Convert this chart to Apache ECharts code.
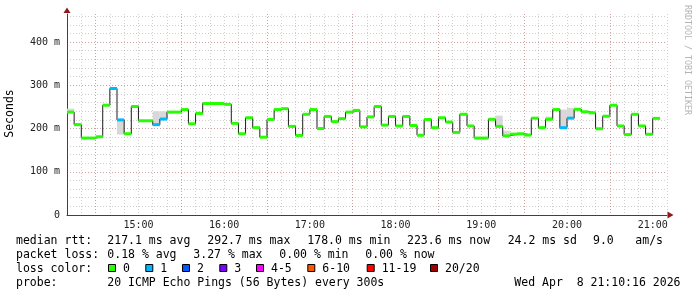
<!DOCTYPE html>
<html><head><meta charset="utf-8">
<script src="https://cdn.jsdelivr.net/npm/echarts@6/dist/echarts.min.js"></script>
<style>html,body{margin:0;padding:0;background:#fff}#c{width:697px;height:297px}</style>
</head><body><div id="c"></div>
<script>
// ---- data ----
const startMinute = 850;   // 14:10, first 5-minute step
const stepMinutes = 5;
const medianMs = [
  238, 209, 178, 178, 181, 254, 292.7, 220, 188, 251,
  218, 218, 209, 222, 238, 238, 244, 211, 235, 258,
  258, 258, 256, 212, 188, 225, 202, 180, 221, 244,
  246, 205, 184, 233, 244, 200, 228, 216, 223, 238,
  242, 204, 227, 251, 208, 228, 206, 228, 207, 184.5,
  221, 202, 225, 215, 191, 233, 206, 178, 178, 221.5,
  205, 183, 187, 188, 185, 224, 202, 221.5, 244, 202,
  224, 244.5, 238.8, 236.5, 199.5, 228.5, 254, 206, 186, 233,
  206, 186.7, 223.6
];
const lossLevel = [
  0,0,0,0,0,0,1,1,0,0,
  0,0,1,1,0,0,0,0,0,0,
  0,0,0,0,0,0,0,0,0,0,
  0,0,0,0,0,0,0,0,0,0,
  0,0,0,0,0,0,0,0,0,0,
  0,0,0,0,0,0,0,0,0,0,
  0,0,0,0,0,0,0,0,0,1,
  1,0,0,0,0,0,0,0,0,0,
  0,0,0
];
// [step number (1-based), low ms, high ms]
const smokeRanges = [
  [1, 238, 246], [2, 209, 213], [8, 186, 220], [13, 209, 240], [14, 222, 240],
  [61, 205, 230], [62, 183, 195], [68, 221, 228], [70, 202, 244], [71, 224, 248]
];
const lossLabels = ['0','1','2','3','4-5','6-10','11-19','20/20'];
const lossColors = ['#26ff00','#00b8ff','#0059ff','#7e00ff','#ff00ff','#ff5500','#ff0000','#a00000'];
const rttStats = ['217.1 ms avg','292.7 ms max','178.0 ms min','223.6 ms now','24.2 ms sd','9.0','am/s'];
const lossStats = ['0.18 % avg','3.27 % max','0.00 % min','0.00 % now'];
const rowTitles = ['median rtt:','packet loss:','loss color:','probe:'];
const probeText = '20 ICMP Echo Pings (56 Bytes) every 300s';
const dateText = 'Wed Apr  8 21:10:16 2026';
const yAxisTitle = 'Seconds';
const sideText = 'RRDTOOL / TOBI OETIKER';

// ---- layout ----
const MONO = 'DejaVu Sans Mono';
const FS = 11.5;
const rowY = [241, 255.3, 268.7, 283];
const rttX = [107.3, 207.3, 307.3, 407, 507.7, 593, 635.3];
const lossX = [107.3, 193.3, 279.3, 365.3];
const squareX = [108, 145.3, 182, 219.3, 256, 307.3, 366.7, 430];

const MAJ = 'rgba(130,30,30,0.42)';
const MIN = 'rgba(140,140,140,0.42)';
const xColors = [MIN, MIN, MAJ, MIN, MIN, MIN];
const yColors = [];
for (let k = 0; k < 24; k++) yColors.push(k % 5 === 0 ? MAJ : MIN);
yColors.push('rgba(0,0,0,0)');

const lineData = medianMs.map((v, i) => [startMinute + i * stepMinutes, v]);
lineData.push([startMinute + medianMs.length * stepMinutes, medianMs[medianMs.length - 1]]);
const bandData = medianMs.map((v, i) => [startMinute + i * stepMinutes, startMinute + (i + 1) * stepMinutes, v, lossLevel[i]]);
const smokeData = smokeRanges.map(([s, lo, hi]) => [startMinute + (s - 1) * stepMinutes, startMinute + s * stepMinutes, lo, hi]);

function txt(x, y, text, extra) {
  return Object.assign({type: 'text', x: x, y: y, silent: true,
    style: {text: text, font: FS + 'px ' + MONO, fill: '#000', align: 'left', verticalAlign: 'middle'}}, extra || {});
}
const graphics = [];
rowTitles.forEach((t, i) => graphics.push(txt(16, rowY[i], t)));
rttStats.forEach((t, i) => graphics.push(txt(rttX[i], rowY[0], t)));
lossStats.forEach((t, i) => graphics.push(txt(lossX[i], rowY[1], t)));
lossLabels.forEach((t, i) => {
  graphics.push({type: 'rect', silent: true, shape: {x: squareX[i] + 0.5, y: 264.5, width: 7, height: 7},
    style: {fill: lossColors[i], stroke: '#000', lineWidth: 1}});
  graphics.push(txt(squareX[i] + 15, rowY[2], t));
});
graphics.push(txt(107.3, rowY[3], probeText));
const dt = txt(680.5, rowY[3], dateText); dt.style.align = 'right'; graphics.push(dt);
graphics.push({type: 'text', x: 10.5, y: 113.5, rotation: Math.PI / 2, silent: true,
  style: {text: yAxisTitle, font: FS + 'px ' + MONO, fill: '#000', align: 'center', verticalAlign: 'middle'}});
graphics.push({type: 'text', x: 687.5, y: 60, rotation: -Math.PI / 2, silent: true,
  style: {text: sideText, font: '8.3px ' + MONO, fill: '#b4b4b4', align: 'center', verticalAlign: 'middle'}});
graphics.push({type: 'polygon', silent: true, shape: {points: [[63.5, 13], [70.5, 13], [67, 7.5]]}, style: {fill: '#8e1b1b'}});
graphics.push({type: 'polygon', silent: true, shape: {points: [[667.5, 211.5], [667.5, 218.5], [673.5, 215]]}, style: {fill: '#8e1b1b'}});

function hhmm(v) {
  const h = Math.floor(v / 60), m = Math.round(v % 60);
  return (h < 10 ? '0' : '') + h + ':' + (m < 10 ? '0' : '') + m;
}

const chart = echarts.init(document.getElementById('c'), null, {renderer: 'canvas'});
chart.setOption({
  backgroundColor: '#ffffff',
  animation: false,
  grid: {left: 67, right: 30, top: 14, bottom: 82, containLabel: false, outerBoundsMode: 'none'},
  xAxis: {
    type: 'value', min: 850, max: 1270, interval: 10,
    axisLine: {show: true, onZero: false, lineStyle: {color: '#404040', width: 1}},
    axisTick: {show: false},
    axisLabel: {show: true, margin: 5, fontFamily: MONO, fontSize: 10, color: '#222',
      hideOverlap: false, formatter: v => (Math.round(v) % 60 === 0 ? hhmm(v) : '')},
    splitLine: {show: true, lineStyle: {color: xColors, type: [1, 2], width: 1}}
  },
  yAxis: {
    type: 'value', min: 0, max: 465, interval: 20,
    axisLine: {show: true, lineStyle: {color: '#404040', width: 1}},
    axisTick: {show: false},
    axisLabel: {show: true, margin: 7, fontFamily: MONO, fontSize: 10, color: '#222',
      formatter: v => (v === 0 ? '0' : (v % 100 === 0 ? v + ' m' : ''))},
    splitLine: {show: true, lineStyle: {color: yColors, type: [1, 2], width: 1}}
  },
  series: [
    {
      type: 'custom', name: 'smoke', z: 1, silent: true, clip: true,
      encode: {x: [0, 1], y: [2, 3]},
      data: smokeData,
      renderItem: (params, api) => {
        const p1 = api.coord([api.value(0), api.value(3)]);
        const p2 = api.coord([api.value(1), api.value(2)]);
        return {type: 'rect', shape: {x: p1[0], y: p1[1], width: p2[0] - p1[0], height: p2[1] - p1[1]},
          style: {fill: '#d8d8d8'}};
      }
    },
    {
      type: 'line', name: 'median', z: 2, silent: true, step: 'end', symbol: 'none', showSymbol: false,
      data: lineData, lineStyle: {color: '#1c1c1c', width: 1}
    },
    {
      type: 'custom', name: 'loss', z: 3, silent: true, clip: true,
      encode: {x: [0, 1], y: [2]},
      data: bandData,
      renderItem: (params, api) => {
        const p1 = api.coord([api.value(0), api.value(2)]);
        const p2 = api.coord([api.value(1), api.value(2)]);
        return {type: 'rect', shape: {x: p1[0], y: p1[1] - 1.5, width: p2[0] - p1[0], height: 3},
          style: {fill: lossColors[api.value(3)]}};
      }
    }
  ],
  graphic: graphics
});
</script></body></html>
